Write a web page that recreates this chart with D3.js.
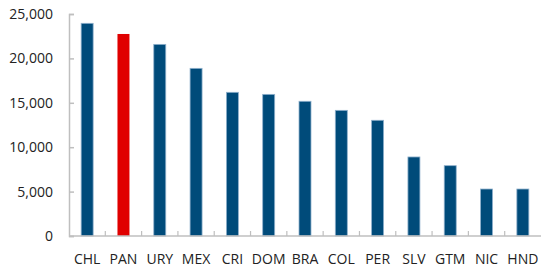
<!DOCTYPE html>
<html><head><meta charset="utf-8">
<script src="https://cdn.jsdelivr.net/npm/d3@7"></script>
<style>body{margin:0;background:#fff}svg{display:block}text{font-family:"Open Sans",sans-serif;fill:#222}</style>
</head><body><svg id="c" width="541" height="268"></svg>
<script>
const categories=["CHL","PAN","URY","MEX","CRI","DOM","BRA","COL","PER","SLV","GTM","NIC","HND"];
const values=[23950,22750,21580,18880,16180,15950,15170,14150,13030,8900,7920,5290,5290];
const highlight=["PAN"];
const yTicks=[0,5000,10000,15000,20000,25000];

const svg=d3.select("#c");
const x=d3.scaleBand().domain(categories).range([69,541]).paddingInner(0.67).paddingOuter(0.335);
const y=d3.scaleLinear().domain([0,25000]).range([236,14]);

// y axis
const ya=svg.append("g").attr("transform","translate(69,0)")
 .call(d3.axisLeft(y).tickValues(yTicks).tickSize(-5).tickPadding(16).tickFormat(d3.format(",")));
ya.select(".domain").attr("stroke","#BFBFBF").attr("stroke-width",1.5);
ya.selectAll(".tick line").attr("stroke","#BFBFBF").attr("stroke-width",1.5);
ya.selectAll("text").style("font-size","14px").attr("fill","#222");

// bars
svg.append("g").selectAll("rect").data(categories).join("rect")
 .attr("x",d=>x(d)).attr("width",x.bandwidth())
 .attr("y",(d,i)=>y(values[i])).attr("height",(d,i)=>y(0)-y(values[i]))
 .attr("fill",d=>highlight.includes(d)?"#E00000":"#004B7A")
 .attr("stroke",d=>highlight.includes(d)?"none":"#8FB0CC").attr("stroke-width",0.8);

// x axis
const xg=svg.append("g").attr("transform","translate(0,236)");
xg.append("line").attr("x1",69).attr("x2",541).attr("stroke","#BFBFBF").attr("stroke-width",1.5);
const step=x.step();
xg.selectAll("line.t").data(categories.slice(1)).join("line").attr("class","t")
 .attr("x1",d=>x(d)-x.paddingInner()*step/2).attr("x2",d=>x(d)-x.paddingInner()*step/2)
 .attr("y1",0).attr("y2",-5).attr("stroke","#BFBFBF").attr("stroke-width",1.2);
xg.selectAll("text").data(categories).join("text")
 .attr("x",d=>x(d)+x.bandwidth()/2).attr("y",28).attr("text-anchor","middle")
 .style("font-size","14px").text(d=>d);
</script></body></html>
